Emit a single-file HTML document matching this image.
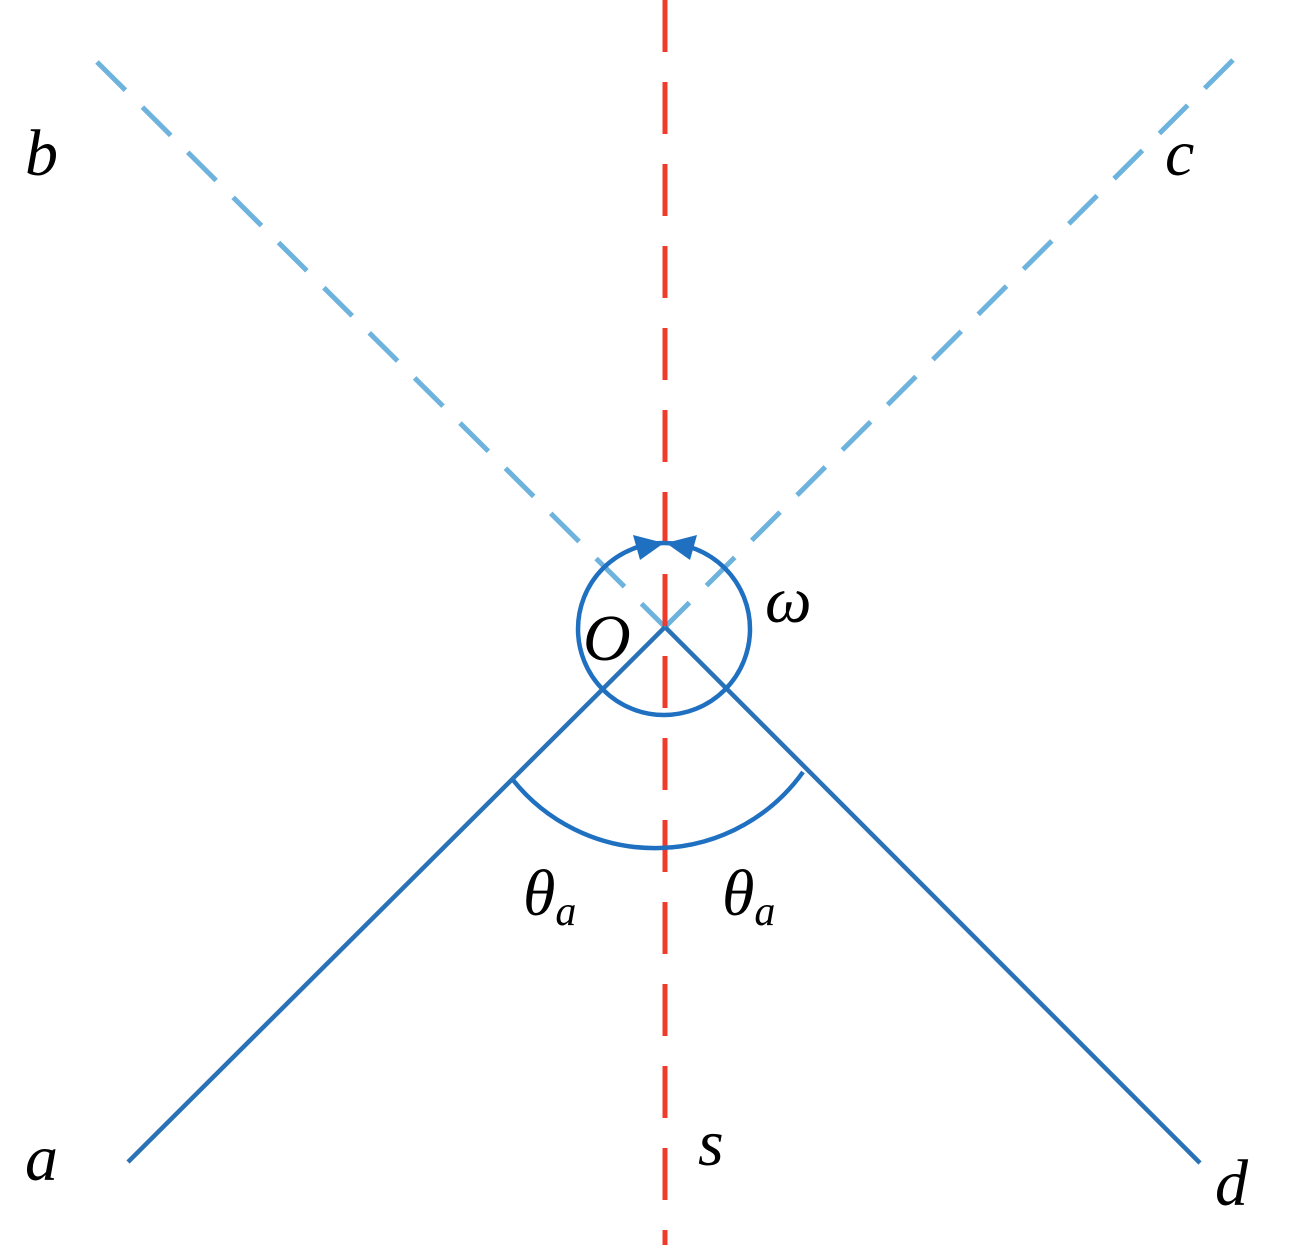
<!DOCTYPE html>
<html><head><style>
html,body{margin:0;padding:0;background:#fff;}
svg{display:block;}
text{font-family:"Liberation Serif",serif;font-style:italic;fill:#000;}
</style></head><body>
<svg width="1293" height="1255" viewBox="0 0 1293 1255" xmlns="http://www.w3.org/2000/svg">
<line x1="97" y1="62" x2="665" y2="627" stroke="#6db3dd" stroke-width="5" stroke-dasharray="40,24"/>
<line x1="1233" y1="60" x2="665" y2="627" stroke="#6db3dd" stroke-width="5" stroke-dasharray="40,24"/>
<line x1="665" y1="0" x2="665" y2="1245" stroke="#f03a2a" stroke-width="5" stroke-dasharray="52,30"/>
<line x1="128" y1="1162" x2="665" y2="627" stroke="#2a72b8" stroke-width="4.5"/>
<line x1="1200" y1="1163" x2="665" y2="627" stroke="#2a72b8" stroke-width="4.5"/>
<circle cx="664" cy="629" r="86" fill="none" stroke="#1f70c0" stroke-width="4.5"/>
<path d="M 513 780 A 182 182 0 0 0 803 772" fill="none" stroke="#1f70c0" stroke-width="4.5"/>
<polygon points="664,543 633,535 640,560" fill="#1f70c0"/>
<polygon points="666,543 697,535 690,560" fill="#1f70c0"/>
<text x="25" y="175" font-size="66">b</text>
<text x="1165" y="175" font-size="66">c</text>
<text x="25" y="1180" font-size="66">a</text>
<text x="1215" y="1205" font-size="66">d</text>
<text x="698" y="1165" font-size="66">s</text>
<text x="765" y="622" font-size="66">ω</text>
<text x="583" y="660" font-size="66">O</text>
<text x="523" y="915" font-size="66">θ<tspan font-size="42" dy="10">a</tspan></text>
<text x="722" y="915" font-size="66">θ<tspan font-size="42" dy="10">a</tspan></text>
</svg>
</body></html>
